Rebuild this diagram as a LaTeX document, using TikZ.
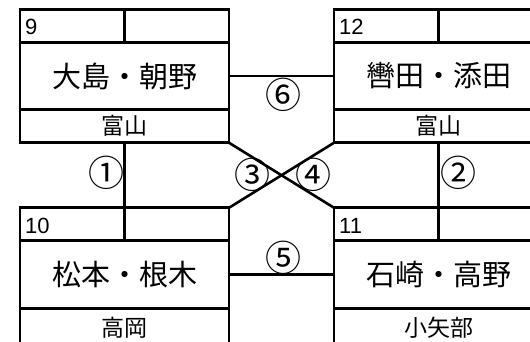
\documentclass[tikz,border=0pt]{standalone}
\usepackage{fontspec}
\setmainfont{Liberation Sans}
\newfontfamily\jp{Noto Sans CJK JP}
\tikzset{
  lw/.style={line width=2.6pt},
  main/.style={draw, lw, outer sep=0pt, inner sep=0pt, minimum width=209pt, minimum height=67.5pt, font=\jp\fontsize{29}{31}\selectfont},
  strip/.style={draw, lw, outer sep=0pt, inner sep=0pt, minimum width=209pt, minimum height=33pt, font=\jp\fontsize{23}{25}\selectfont},
  half/.style={draw, lw, outer sep=0pt, inner sep=0pt, minimum width=104.5pt, minimum height=33pt},
  num/.style={anchor=west, inner sep=0pt, font=\fontsize{22}{24}\selectfont},
  circ/.style={inner sep=0pt, font=\jp\fontsize{36}{38}\selectfont},
  link/.style={lw}
}
\begin{document}
\begin{tikzpicture}[x=1pt,y=-1pt]
\useasboundingbox (0,0) rectangle (530,341);
\clip (0,0) rectangle (530,341);
\fill[white] (0,0) rectangle (530,341);
% box 9 (top left)
\node[main] (A) at (124.5,76) {大島・朝野};
\node[half, anchor=south west] (An) at (A.north west) {};
\node[half, anchor=south east] (Ae) at (A.north east) {};
\node[strip, anchor=north] (Ab) at (A.south) {富山};
\node[num] (At) at ([xshift=5pt,yshift=-1.5pt]An.west) {9};
% box 12 (top right)
\node[main] (C) at (438.5,76) {轡田・添田};
\node[half, anchor=south west] (Cn) at (C.north west) {};
\node[half, anchor=south east] (Ce) at (C.north east) {};
\node[strip, anchor=north] (Cb) at (C.south) {富山};
\node[num] (Ct) at ([xshift=5pt,yshift=-1.5pt]Cn.west) {12};
% box 10 (bottom left)
\node[main] (B) at (124.5,274.5) {松本・根木};
\node[half, anchor=south west] (Bn) at (B.north west) {};
\node[half, anchor=south east] (Be) at (B.north east) {};
\node[strip, anchor=north, minimum height=36pt] (Bb) at (B.south) {};
\node[strip, draw=none] (Bbt) at ([yshift=-1.5pt]Bb.center) {高岡};
\node[num] (Bt) at ([xshift=5pt,yshift=-1.5pt]Bn.west) {10};
% box 11 (bottom right)
\node[main] (D) at (438.5,274.5) {石崎・高野};
\node[half, anchor=south west] (Dn) at (D.north west) {};
\node[half, anchor=south east] (De) at (D.north east) {};
\node[strip, anchor=north, minimum height=36pt] (Db) at (D.south) {};
\node[strip, draw=none] (Dbt) at ([yshift=-1.5pt]Db.center) {小矢部};
\node[num] (Dt) at ([xshift=5pt,yshift=-1.5pt]Dn.west) {11};
% connectors
\draw[link] (A.east) -- (C.west);
\draw[link] (B.east) -- (D.west);
\draw[link] (Ab.south) -- (Bn.south east);
\draw[link] (Cb.south) -- (Dn.south east);
\draw[link] (Ab.south east) -- (Dn.north west);
\draw[link] (Bn.north east -| Be.north east) -- (Cb.south west);
% labels
\node[circ] (L1) at (106,173) {①};
\node[circ] (L2) at (458,173) {②};
\node[circ] (L3) at (252,175) {③};
\node[circ] (L4) at (313,175) {④};
\node[circ] (L5) at (283,258) {⑤};
\node[circ] (L6) at (283,95) {⑥};
\end{tikzpicture}
\end{document}
